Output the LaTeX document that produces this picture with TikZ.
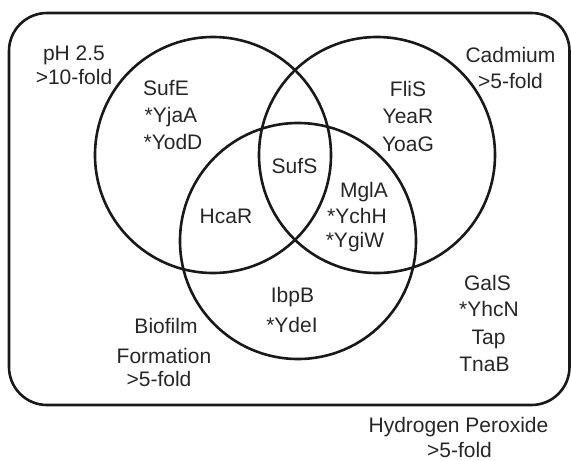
\documentclass[tikz,border=0pt]{standalone}
\usepackage{fontspec}
\setmainfont{Liberation Sans}
\begin{document}
\begin{tikzpicture}[x=1pt,y=-1pt,
  ring/.style={draw=black!90,line width=2.6pt},
  lbl/.style={anchor=base,inner sep=0pt,font=\fontsize{21}{25}\selectfont,text=black!85}]
\useasboundingbox (0,0) rectangle (571,461);
\draw[ring,rounded corners=38pt] (9,13) rectangle (569.5,405);
\node[ring,circle,minimum size=236pt,inner sep=0pt] (cA) at (213,155) {};
\node[ring,circle,minimum size=236pt,inner sep=0pt] (cB) at (377,155) {};
\node[ring,circle,minimum size=236pt,inner sep=0pt] (cC) at (298,241) {};
% pH
\node[lbl] (ph1) at (74,60) {pH 2.5};
\node[lbl] (ph2) at (74,84) {>10-fold};
\node[lbl] (a1) at (166,95) {SufE};
\node[lbl] (a2) at (171,122) {*YjaA};
\node[lbl] (a3) at (173,149) {*YodD};
\node[lbl] (ac) at (226,223) {HcaR};
\node[lbl] (abc) at (294.5,173) {SufS};
% Cadmium
\node[lbl] (cd1) at (510.5,62) {Cadmium};
\node[lbl] (cd2) at (510.5,88) {>5-fold};
\node[lbl] (b1) at (408,96) {FliS};
\node[lbl] (b2) at (408,123) {YeaR};
\node[lbl] (b3) at (408,151) {YoaG};
\node[lbl] (bc1) at (364,197) {MglA};
\node[lbl] (bc2) at (357,223) {*YchH};
\node[lbl] (bc3) at (355,247) {*YgiW};
% Biofilm
\node[lbl] (c1) at (292.5,302) {IbpB};
\node[lbl] (c2) at (292,332) {*YdeI};
\node[lbl] (bf1) at (166,333) {Biofilm};
\node[lbl] (bf2) at (164,363) {Formation};
\node[lbl] (bf3) at (159,386) {>5-fold};
% Hydrogen peroxide
\node[lbl] (h1) at (487.5,290) {GalS};
\node[lbl] (h2) at (489,316) {*YhcN};
\node[lbl] (h3) at (488.5,344) {Tap};
\node[lbl] (h4) at (484.5,371) {TnaB};
\node[lbl] (hp1) at (458.5,432) {Hydrogen Peroxide};
\node[lbl] (hp2) at (459.5,457) {>5-fold};
\end{tikzpicture}
\end{document}
